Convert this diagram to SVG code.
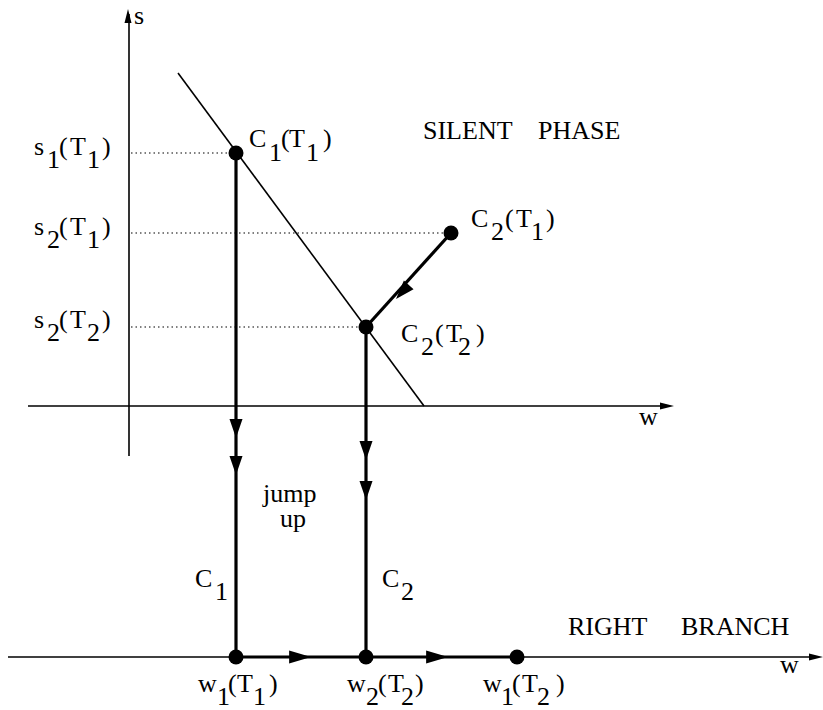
<svg xmlns="http://www.w3.org/2000/svg" xmlns:xlink="http://www.w3.org/1999/xlink" width="823" height="710" viewBox="0 0 823 710">
<style>
text { font-family: "Liberation Serif", "Times New Roman", serif; font-size: 26px; fill: #000; }
.axis { stroke: #000; stroke-width: 1.6; fill: none; }
.thin { stroke: #000; stroke-width: 1.6; fill: none; }
.thick { stroke: #000; stroke-width: 3.2; fill: none; }
.dot { stroke: #000; stroke-width: 1.2; stroke-dasharray: 1.5 3; fill: none; }
.node { fill: #000; }
</style>
<defs>
<path id="ah" d="M0,0 L-19,-6.5 L-19,6.5 Z" fill="#000"/>
<path id="axh" d="M0,0 L-14,-3.5 L-14,3.5 Z" fill="#000"/>
</defs>
<g id="connectors">
  <line class="axis" x1="129" y1="456" x2="129" y2="14"/>
  <use xlink:href="#axh" transform="translate(128,9) rotate(-90)"/>
  <line class="axis" x1="28" y1="406" x2="668" y2="406"/>
  <use xlink:href="#axh" transform="translate(674,406)"/>
  <line class="axis" x1="8" y1="657" x2="818" y2="657"/>
  <use xlink:href="#axh" transform="translate(823,657)"/>
  <line class="thin" x1="178" y1="73" x2="424" y2="406"/>
  <line class="dot" x1="131" y1="153" x2="236" y2="153"/>
  <line class="dot" x1="131" y1="233" x2="451" y2="233"/>
  <line class="dot" x1="131" y1="327" x2="366" y2="327"/>
  <line class="thick" x1="236" y1="153" x2="236" y2="657"/>
  <line class="thick" x1="366" y1="327" x2="366" y2="657"/>
  <line class="thick" x1="451" y1="233" x2="366" y2="327"/>
  <line class="thick" x1="236" y1="657" x2="517" y2="657"/>
  <use xlink:href="#ah" transform="translate(236,438) rotate(90)"/>
  <use xlink:href="#ah" transform="translate(236,475) rotate(90)"/>
  <use xlink:href="#ah" transform="translate(366,460) rotate(90)"/>
  <use xlink:href="#ah" transform="translate(366,500) rotate(90)"/>
  <use xlink:href="#ah" transform="translate(396,299) rotate(132)"/>
  <use xlink:href="#ah" transform="translate(311,657) scale(1.15,1)"/>
  <use xlink:href="#ah" transform="translate(448,657) scale(1.15,1)"/>
</g>
<g id="axis-labels">
  <text x="134" y="24">s</text>
  <text x="639" y="425">w</text>
  <text x="780" y="673">w</text>
</g>
<g id="s-labels">
  <text><tspan x="34" y="155">s</tspan><tspan x="47" y="168">1</tspan><tspan x="59" y="155">(</tspan><tspan x="70" y="155">T</tspan><tspan x="87" y="168">1</tspan><tspan x="102" y="155">)</tspan></text>
  <text><tspan x="34" y="235">s</tspan><tspan x="47" y="248">2</tspan><tspan x="59" y="235">(</tspan><tspan x="70" y="235">T</tspan><tspan x="87" y="248">1</tspan><tspan x="102" y="235">)</tspan></text>
  <text><tspan x="34" y="328">s</tspan><tspan x="47" y="341">2</tspan><tspan x="59" y="328">(</tspan><tspan x="70" y="328">T</tspan><tspan x="87" y="341">2</tspan><tspan x="102" y="328">)</tspan></text>
</g>
<g id="C1T1">
  <circle class="node" cx="236" cy="153" r="7.5"/>
  <text><tspan x="249" y="147">C</tspan><tspan x="269" y="161">1</tspan><tspan x="281" y="147">(</tspan><tspan x="289" y="147">T</tspan><tspan x="306" y="161">1</tspan><tspan x="323" y="147">)</tspan></text>
</g>
<g id="C2T1">
  <circle class="node" cx="451" cy="233" r="7.5"/>
  <text><tspan x="471" y="227">C</tspan><tspan x="491" y="240">2</tspan><tspan x="505" y="227">(</tspan><tspan x="516" y="227">T</tspan><tspan x="531" y="240">1</tspan><tspan x="546" y="227">)</tspan></text>
</g>
<g id="C2T2">
  <circle class="node" cx="366" cy="327" r="7.5"/>
  <text><tspan x="401" y="342">C</tspan><tspan x="421" y="355">2</tspan><tspan x="435" y="342">(</tspan><tspan x="446" y="342">T</tspan><tspan x="458" y="355">2</tspan><tspan x="476" y="342">)</tspan></text>
</g>
<g id="silent-phase">
  <text x="423" y="139">SILENT</text>
  <text x="538" y="139">PHASE</text>
</g>
<g id="jump-up">
  <text x="263" y="502">jump</text>
  <text x="280" y="527">up</text>
</g>
<g id="C1-label">
  <text><tspan x="195" y="587">C</tspan><tspan x="215" y="600">1</tspan></text>
</g>
<g id="C2-label">
  <text><tspan x="382" y="587">C</tspan><tspan x="401" y="600">2</tspan></text>
</g>
<g id="right-branch">
  <text x="568" y="635">RIGHT</text>
  <text x="681" y="635">BRANCH</text>
</g>
<g id="w1T1">
  <circle class="node" cx="236" cy="657" r="7.5"/>
  <text><tspan x="198" y="692">w</tspan><tspan x="217" y="705">1</tspan><tspan x="228" y="692">(</tspan><tspan x="237" y="692">T</tspan><tspan x="253" y="705">1</tspan><tspan x="269" y="692">)</tspan></text>
</g>
<g id="w2T2">
  <circle class="node" cx="366" cy="657" r="7.5"/>
  <text><tspan x="347" y="692">w</tspan><tspan x="366" y="705">2</tspan><tspan x="378" y="692">(</tspan><tspan x="388" y="692">T</tspan><tspan x="401" y="705">2</tspan><tspan x="415" y="692">)</tspan></text>
</g>
<g id="w1T2">
  <circle class="node" cx="517" cy="657" r="7.5"/>
  <text><tspan x="483" y="692">w</tspan><tspan x="501" y="705">1</tspan><tspan x="512" y="692">(</tspan><tspan x="522" y="692">T</tspan><tspan x="537" y="705">2</tspan><tspan x="556" y="692">)</tspan></text>
</g>
</svg>
